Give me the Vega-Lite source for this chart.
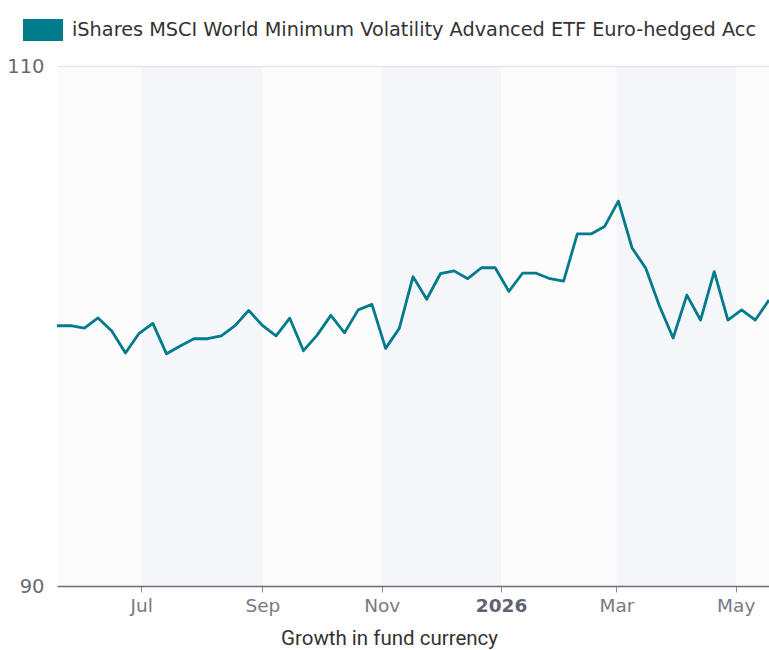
{
  "$schema": "https://vega.github.io/schema/vega-lite/v6.json",
  "width": 712,
  "height": 520,
  "autosize": {"type": "none"},
  "padding": {"left": 57, "top": 66, "right": 0, "bottom": 64},
  "background": "#ffffff",
  "config": {"view": {"stroke": null, "fill": "#fcfcfd"}, "font": "DejaVu Sans"},
  "datasets": {
    "bands": [
      {"start": "2025-07-01", "end": "2025-09-01"},
      {"start": "2025-11-01", "end": "2026-01-01"},
      {"start": "2026-03-01", "end": "2026-05-01"}
    ],
    "series": [
      {"date": "2025-05-19", "value": 100.01, "fund": "iShares MSCI World Minimum Volatility Advanced ETF Euro-hedged Acc"},
      {"date": "2025-05-26", "value": 100.01, "fund": "iShares MSCI World Minimum Volatility Advanced ETF Euro-hedged Acc"},
      {"date": "2025-06-02", "value": 99.92, "fund": "iShares MSCI World Minimum Volatility Advanced ETF Euro-hedged Acc"},
      {"date": "2025-06-09", "value": 100.31, "fund": "iShares MSCI World Minimum Volatility Advanced ETF Euro-hedged Acc"},
      {"date": "2025-06-16", "value": 99.81, "fund": "iShares MSCI World Minimum Volatility Advanced ETF Euro-hedged Acc"},
      {"date": "2025-06-23", "value": 98.96, "fund": "iShares MSCI World Minimum Volatility Advanced ETF Euro-hedged Acc"},
      {"date": "2025-06-30", "value": 99.72, "fund": "iShares MSCI World Minimum Volatility Advanced ETF Euro-hedged Acc"},
      {"date": "2025-07-07", "value": 100.10, "fund": "iShares MSCI World Minimum Volatility Advanced ETF Euro-hedged Acc"},
      {"date": "2025-07-14", "value": 98.93, "fund": "iShares MSCI World Minimum Volatility Advanced ETF Euro-hedged Acc"},
      {"date": "2025-07-21", "value": 99.23, "fund": "iShares MSCI World Minimum Volatility Advanced ETF Euro-hedged Acc"},
      {"date": "2025-07-28", "value": 99.51, "fund": "iShares MSCI World Minimum Volatility Advanced ETF Euro-hedged Acc"},
      {"date": "2025-08-04", "value": 99.51, "fund": "iShares MSCI World Minimum Volatility Advanced ETF Euro-hedged Acc"},
      {"date": "2025-08-11", "value": 99.62, "fund": "iShares MSCI World Minimum Volatility Advanced ETF Euro-hedged Acc"},
      {"date": "2025-08-18", "value": 100.01, "fund": "iShares MSCI World Minimum Volatility Advanced ETF Euro-hedged Acc"},
      {"date": "2025-08-25", "value": 100.60, "fund": "iShares MSCI World Minimum Volatility Advanced ETF Euro-hedged Acc"},
      {"date": "2025-09-01", "value": 100.02, "fund": "iShares MSCI World Minimum Volatility Advanced ETF Euro-hedged Acc"},
      {"date": "2025-09-08", "value": 99.62, "fund": "iShares MSCI World Minimum Volatility Advanced ETF Euro-hedged Acc"},
      {"date": "2025-09-15", "value": 100.30, "fund": "iShares MSCI World Minimum Volatility Advanced ETF Euro-hedged Acc"},
      {"date": "2025-09-22", "value": 99.05, "fund": "iShares MSCI World Minimum Volatility Advanced ETF Euro-hedged Acc"},
      {"date": "2025-09-29", "value": 99.65, "fund": "iShares MSCI World Minimum Volatility Advanced ETF Euro-hedged Acc"},
      {"date": "2025-10-06", "value": 100.41, "fund": "iShares MSCI World Minimum Volatility Advanced ETF Euro-hedged Acc"},
      {"date": "2025-10-13", "value": 99.74, "fund": "iShares MSCI World Minimum Volatility Advanced ETF Euro-hedged Acc"},
      {"date": "2025-10-20", "value": 100.62, "fund": "iShares MSCI World Minimum Volatility Advanced ETF Euro-hedged Acc"},
      {"date": "2025-10-27", "value": 100.83, "fund": "iShares MSCI World Minimum Volatility Advanced ETF Euro-hedged Acc"},
      {"date": "2025-11-03", "value": 99.14, "fund": "iShares MSCI World Minimum Volatility Advanced ETF Euro-hedged Acc"},
      {"date": "2025-11-10", "value": 99.91, "fund": "iShares MSCI World Minimum Volatility Advanced ETF Euro-hedged Acc"},
      {"date": "2025-11-17", "value": 101.90, "fund": "iShares MSCI World Minimum Volatility Advanced ETF Euro-hedged Acc"},
      {"date": "2025-11-24", "value": 101.03, "fund": "iShares MSCI World Minimum Volatility Advanced ETF Euro-hedged Acc"},
      {"date": "2025-12-01", "value": 102.01, "fund": "iShares MSCI World Minimum Volatility Advanced ETF Euro-hedged Acc"},
      {"date": "2025-12-08", "value": 102.12, "fund": "iShares MSCI World Minimum Volatility Advanced ETF Euro-hedged Acc"},
      {"date": "2025-12-15", "value": 101.82, "fund": "iShares MSCI World Minimum Volatility Advanced ETF Euro-hedged Acc"},
      {"date": "2025-12-22", "value": 102.24, "fund": "iShares MSCI World Minimum Volatility Advanced ETF Euro-hedged Acc"},
      {"date": "2025-12-29", "value": 102.24, "fund": "iShares MSCI World Minimum Volatility Advanced ETF Euro-hedged Acc"},
      {"date": "2026-01-05", "value": 101.33, "fund": "iShares MSCI World Minimum Volatility Advanced ETF Euro-hedged Acc"},
      {"date": "2026-01-12", "value": 102.03, "fund": "iShares MSCI World Minimum Volatility Advanced ETF Euro-hedged Acc"},
      {"date": "2026-01-19", "value": 102.03, "fund": "iShares MSCI World Minimum Volatility Advanced ETF Euro-hedged Acc"},
      {"date": "2026-01-26", "value": 101.82, "fund": "iShares MSCI World Minimum Volatility Advanced ETF Euro-hedged Acc"},
      {"date": "2026-02-02", "value": 101.73, "fund": "iShares MSCI World Minimum Volatility Advanced ETF Euro-hedged Acc"},
      {"date": "2026-02-09", "value": 103.54, "fund": "iShares MSCI World Minimum Volatility Advanced ETF Euro-hedged Acc"},
      {"date": "2026-02-16", "value": 103.54, "fund": "iShares MSCI World Minimum Volatility Advanced ETF Euro-hedged Acc"},
      {"date": "2026-02-23", "value": 103.83, "fund": "iShares MSCI World Minimum Volatility Advanced ETF Euro-hedged Acc"},
      {"date": "2026-03-02", "value": 104.80, "fund": "iShares MSCI World Minimum Volatility Advanced ETF Euro-hedged Acc"},
      {"date": "2026-03-09", "value": 103.00, "fund": "iShares MSCI World Minimum Volatility Advanced ETF Euro-hedged Acc"},
      {"date": "2026-03-16", "value": 102.22, "fund": "iShares MSCI World Minimum Volatility Advanced ETF Euro-hedged Acc"},
      {"date": "2026-03-23", "value": 100.77, "fund": "iShares MSCI World Minimum Volatility Advanced ETF Euro-hedged Acc"},
      {"date": "2026-03-30", "value": 99.54, "fund": "iShares MSCI World Minimum Volatility Advanced ETF Euro-hedged Acc"},
      {"date": "2026-04-06", "value": 101.19, "fund": "iShares MSCI World Minimum Volatility Advanced ETF Euro-hedged Acc"},
      {"date": "2026-04-13", "value": 100.23, "fund": "iShares MSCI World Minimum Volatility Advanced ETF Euro-hedged Acc"},
      {"date": "2026-04-20", "value": 102.09, "fund": "iShares MSCI World Minimum Volatility Advanced ETF Euro-hedged Acc"},
      {"date": "2026-04-27", "value": 100.23, "fund": "iShares MSCI World Minimum Volatility Advanced ETF Euro-hedged Acc"},
      {"date": "2026-05-04", "value": 100.62, "fund": "iShares MSCI World Minimum Volatility Advanced ETF Euro-hedged Acc"},
      {"date": "2026-05-11", "value": 100.23, "fund": "iShares MSCI World Minimum Volatility Advanced ETF Euro-hedged Acc"},
      {"date": "2026-05-18", "value": 101.00, "fund": "iShares MSCI World Minimum Volatility Advanced ETF Euro-hedged Acc"}
    ]
  },
  "layer": [
    {
      "data": {"name": "bands"},
      "mark": {"type": "rect", "color": "#f5f6fa"},
      "encoding": {
        "x": {"field": "start", "type": "temporal", "title": "Growth in fund currency", "scale": {"type": "utc", "nice": false}},
        "x2": {"field": "end"}
      }
    },
    {
      "data": {"name": "series"},
      "mark": {"type": "line", "strokeWidth": 2.8, "strokeJoin": "round", "clip": true},
      "encoding": {
        "x": {
          "field": "date",
          "type": "temporal",
          "title": "Growth in fund currency",
          "scale": {"type": "utc", "nice": false},
          "axis": {
            "values": [
              {"year": 2025, "month": 7, "date": 1, "utc": true},
              {"year": 2025, "month": 9, "date": 1, "utc": true},
              {"year": 2025, "month": 11, "date": 1, "utc": true},
              {"year": 2026, "month": 1, "date": 1, "utc": true},
              {"year": 2026, "month": 3, "date": 1, "utc": true},
              {"year": 2026, "month": 5, "date": 1, "utc": true}
            ],
            "labelExpr": "utcmonth(datum.value) == 0 ? utcFormat(datum.value, '%Y') : utcFormat(datum.value, '%b')",
            "labelFont": "DejaVu Sans",
            "labelFontSize": 18.5,
            "labelColor": {"condition": {"test": "utcmonth(datum.value) == 0", "value": "#5f636e"}, "value": "#767a86"},
            "labelFontWeight": {"condition": {"test": "utcmonth(datum.value) == 0", "value": "bold"}, "value": "normal"},
            "labelPadding": 4,
            "labelFlush": false,
            "labelOverlap": false,
            "tickSize": 6,
            "tickColor": "#8a8d96",
            "tickWidth": 1,
            "domainColor": "#6b6e78",
            "domainWidth": 1.5,
            "grid": false,
            "titleFont": "Roboto",
            "titleFontSize": 20.5,
            "titleFontWeight": "normal",
            "titleColor": "#333333",
            "titlePadding": 14,
            "titleX": 332,
            "titleAlign": "center",
            "zindex": 2
          }
        },
        "y": {
          "field": "value",
          "type": "quantitative",
          "scale": {"domain": [90, 110], "nice": false, "zero": false},
          "axis": {
            "values": [90, 110],
            "title": null,
            "domain": false,
            "ticks": false,
            "labelPadding": 13,
            "labelFont": "DejaVu Sans",
            "labelFontSize": 19.5,
            "labelColor": "#686b74",
            "grid": true,
            "gridColor": {"condition": {"test": "datum.value == 110", "value": "#e1e6f0"}, "value": "transparent"},
            "gridWidth": 1.5,
            "zindex": 1
          }
        },
        "color": {
          "field": "fund",
          "type": "nominal",
          "scale": {"range": ["#007b8c"]},
          "legend": {
            "title": null,
            "orient": "none",
            "legendX": -34,
            "legendY": -56,
            "symbolType": "M-1,-0.55H1V0.55H-1Z",
            "symbolSize": 1600,
            "labelFont": "DejaVu Sans",
            "labelFontSize": 19.3,
            "labelColor": "#333333",
            "labelLimit": 900,
            "labelOffset": 9,
            "encode": {"symbols": {"update": {"fill": {"value": "#007b8c"}, "stroke": {"value": "transparent"}, "strokeWidth": {"value": 0}}}}
          }
        }
      }
    }
  ]
}
